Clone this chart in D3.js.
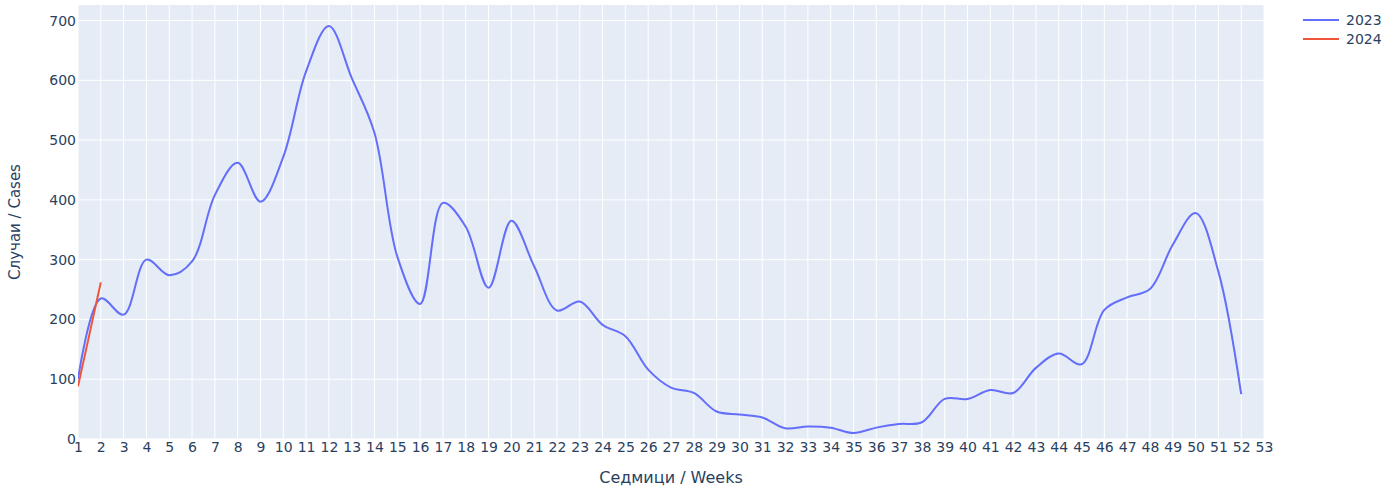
<!DOCTYPE html>
<html>
<head>
<meta charset="utf-8">
<script src="https://cdn.jsdelivr.net/npm/d3@7"></script>
<style>
  body { margin: 0; background: #fff; }
  svg text { font-family: "DejaVu Sans", Verdana, sans-serif; fill: #2a3f5f; }
</style>
</head>
<body>
<svg id="chart" width="1396" height="490"></svg>
<script>
// weeks and weekly cases
let weeks2023 = d3.range(1, 53);
let cases2023 = [100, 235, 208, 300, 274, 297, 408, 462, 397, 472,
    615, 691, 604, 512, 305, 226, 395, 355, 253, 365,
    289, 215, 230, 191, 172, 116, 86, 77, 46, 41,
    36, 18, 21, 19, 10, 19, 25, 28, 67, 67,
    82, 77, 119, 143, 125, 216, 237, 251, 325, 378,
    280, 75];
let weeks2024 = [1, 2];
let cases2024 = [88, 262];
let xTicks = d3.range(1, 54);
let yTicks = [0, 100, 200, 300, 400, 500, 600, 700];
let seriesNames = ["2023", "2024"];
let colors = ["#636efa", "#ef553b"];

const plotLeft = 78, plotRight = 1264, plotTop = 5, plotBottom = 439;

let x = d3.scaleLinear().domain([1, 53]).range([plotLeft, plotRight]);
let y = d3.scaleLinear().domain([0, 726]).range([plotBottom, plotTop]);

let svg = d3.select("#chart");

// plot background
svg.append("rect")
    .attr("x", plotLeft).attr("y", plotTop)
    .attr("width", plotRight - plotLeft).attr("height", plotBottom - plotTop)
    .attr("fill", "#e5ecf6");

// grid lines
svg.append("g")
    .selectAll("line")
    .data(xTicks)
    .enter().append("line")
        .attr("x1", d => x(d)).attr("x2", d => x(d))
        .attr("y1", plotTop).attr("y2", plotBottom)
        .attr("stroke", "#fff").attr("stroke-width", 1);

svg.append("g")
    .selectAll("line")
    .data(yTicks)
    .enter().append("line")
        .attr("x1", plotLeft).attr("x2", plotRight)
        .attr("y1", d => y(d)).attr("y2", d => y(d))
        .attr("stroke", "#fff").attr("stroke-width", 1);

// x axis
let xAxis = svg.append("g")
    .attr("transform", `translate(0, ${plotBottom})`)
    .call(d3.axisBottom(x).tickValues(xTicks).tickFormat(d3.format("d")).tickSize(0).tickPadding(3));
xAxis.select(".domain").remove();
xAxis.selectAll("text").style("font-size", "14px").attr("fill", "#2a3f5f");

// y axis
let yAxis = svg.append("g")
    .attr("transform", `translate(${plotLeft}, 0)`)
    .call(d3.axisLeft(y).tickValues(yTicks).tickSize(0).tickPadding(2));
yAxis.select(".domain").remove();
yAxis.selectAll("text").style("font-size", "14px").attr("fill", "#2a3f5f");

// axis titles
svg.append("text")
    .attr("x", (plotLeft + plotRight) / 2)
    .attr("y", 483)
    .style("text-anchor", "middle")
    .style("font-size", "16px")
    .text("Седмици / Weeks");

svg.append("text")
    .attr("transform", "rotate(-90)")
    .attr("x", -(plotTop + plotBottom) / 2)
    .attr("y", 20)
    .style("text-anchor", "middle")
    .style("font-size", "15px")
    .text("Случаи / Cases");

// lines
let line = d3.line()
    .x(d => x(d[0]))
    .y(d => y(d[1]))
    .curve(d3.curveCatmullRom.alpha(0.5));

svg.append("clipPath").attr("id", "plotclip")
    .append("rect")
    .attr("x", plotLeft).attr("y", plotTop)
    .attr("width", plotRight - plotLeft).attr("height", plotBottom - plotTop);

svg.append("path")
    .datum(d3.zip(weeks2023, cases2023))
    .attr("fill", "none")
    .attr("stroke", colors[0])
    .attr("stroke-width", 2)
    .attr("clip-path", "url(#plotclip)")
    .attr("d", line);

svg.append("path")
    .datum(d3.zip(weeks2024, cases2024))
    .attr("fill", "none")
    .attr("stroke", colors[1])
    .attr("stroke-width", 2)
    .attr("clip-path", "url(#plotclip)")
    .attr("d", line);

// legend
let legend = svg.append("g")
    .selectAll("g")
    .data(seriesNames)
    .enter().append("g")
        .attr("transform", (d, i) => `translate(1303, ${20 + i * 19})`);
legend.append("line")
    .attr("x1", 0).attr("x2", 36)
    .attr("stroke", (d, i) => colors[i])
    .attr("stroke-width", 2);
legend.append("text")
    .attr("x", 43)
    .attr("dy", "0.35em")
    .style("font-size", "14px")
    .text(d => d);
</script>
</body>
</html>
